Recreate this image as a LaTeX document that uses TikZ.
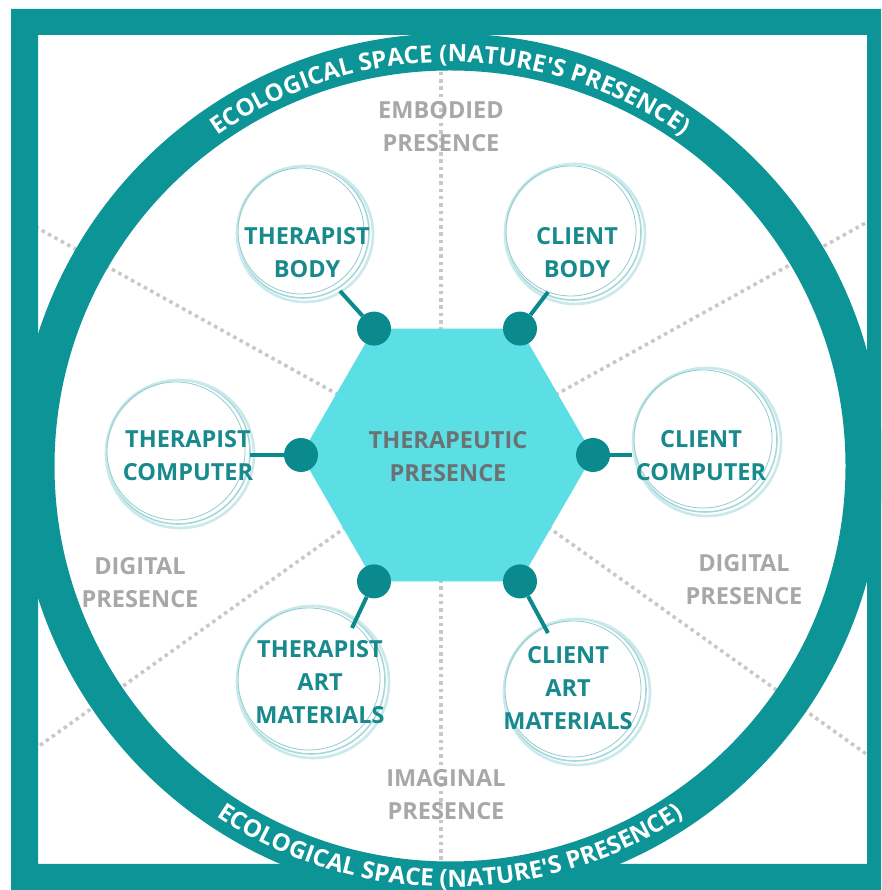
\documentclass[tikz,border=0pt]{standalone}
\usepackage{fontspec}
\setmainfont{Open Sans}
\newfontfamily\ringfont{Open Sans}
\usetikzlibrary{decorations.text,calc}
\definecolor{frameTeal}{HTML}{0C9497}
\definecolor{dotTeal}{HTML}{0B8A8D}
\definecolor{hexCyan}{HTML}{5CDEE5}
\definecolor{nodeTeal}{HTML}{18898C}
\definecolor{labGray}{HTML}{A8A8A8}
\definecolor{hexGray}{HTML}{6C7274}
\definecolor{dotGray}{HTML}{C8C8C8}
\definecolor{skA}{HTML}{A6D8DA}
\definecolor{skB}{HTML}{C9E9EA}
\definecolor{skC}{HTML}{8FCCCE}
\begin{document}
\begin{tikzpicture}[x=1pt,y=1pt,
  dotline/.style={dotGray, line width=3.5, dash pattern=on 3.5 off 3.8},
  graylab/.style={text=labGray, font=\fontsize{23.5}{33}\selectfont\bfseries, align=center, inner sep=0},
  nodetext/.style={text=nodeTeal, font=\fontsize{23.5}{33}\selectfont\bfseries, align=center, inner sep=0},
  hexlab/.style={text=hexGray, font=\fontsize{23.5}{33}\selectfont\bfseries, align=center, inner sep=0},
  skcirc/.style={circle, draw=skA, line width=1.6, inner sep=0},
  skextraB/.style={draw=skB, line width=2.6},
  skextraC/.style={draw=skC, line width=0.8},
  knob/.style={circle, fill=dotTeal, minimum size=34, inner sep=0},
  link/.style={dotTeal, line width=4}
]
\useasboundingbox (0,0) rectangle (881,890);
\clip (0,0) rectangle (881,890);
\fill[white] (0,0) rectangle (881,890);

% radial dotted lines (kept inside the frame)
\coordinate (ctr) at (447,435);
\coordinate (vTop) at (441,435);
\coordinate (ulEnd) at ($(ctr)+(151:520)$);
\coordinate (urEnd) at ($(ctr)+(29:520)$);
\coordinate (llEnd) at ($(ctr)+(215.5:520)$);
\coordinate (lrEnd) at ($(ctr)+(324.5:520)$);
\coordinate (upEnd) at (441,880);
\coordinate (dnEnd) at (441,0);
\begin{scope}
\clip (38,26) rectangle (867,855);
\draw[dotline] (ctr) -- (ulEnd);
\draw[dotline] (ctr) -- (urEnd);
\draw[dotline] (ctr) -- (llEnd);
\draw[dotline] (ctr) -- (lrEnd);
\draw[dotline] (vTop) -- (upEnd);
\draw[dotline] (vTop) -- (dnEnd);
\end{scope}

% ecological ring and frame
\coordinate (ringC) at (450,424);
\draw[frameTeal, line width=37] (ringC) circle[radius=414];
\fill[frameTeal, even odd rule] (11,-20) rectangle (900,881) (38,26) rectangle (867,855);

% ring texts
\path[decorate, decoration={text along path, text align=center, text color=white,
  text={|\fontsize{24}{24}\ringfont\bfseries|ECOLOGICAL SPACE (NATURE'S PRESENCE)}}]
  (ringC) ++(130:404) arc[start angle=130, end angle=50, radius=404];
\path[decorate, decoration={text along path, text align=center, text color=white,
  text={|\fontsize{24}{24}\ringfont\bfseries|ECOLOGICAL SPACE (NATURE'S PRESENCE)}}]
  (ringC) ++(230:421) arc[start angle=230, end angle=310, radius=421];

% gray presence labels
\node[graylab] (embodied) at (441,763) {EMBODIED\\PRESENCE};
\node[graylab] (digL) at (140,307) {DIGITAL\\PRESENCE};
\node[graylab] (digR) at (744,310) {DIGITAL\\PRESENCE};
\node[graylab] (imag) at (446,95) {IMAGINAL\\PRESENCE};

% sketch circles
\node[skcirc, minimum size=132] (tbc) at (303,658) {};
\draw[skextraB] ($(tbc)+(2,-2)$) circle[radius=68];
\draw[skextraC] ($(tbc)+(-2,1)$) circle[radius=63];
\node[skcirc, minimum size=136] (cbc) at (573,658) {};
\draw[skextraB] ($(cbc)+(2,-2)$) circle[radius=70];
\draw[skextraC] ($(cbc)+(-2,1)$) circle[radius=65];
\node[skcirc, minimum size=144] (tcc) at (178,438) {};
\draw[skextraB] ($(tcc)+(2,-2)$) circle[radius=74];
\draw[skextraC] ($(tcc)+(-2,1)$) circle[radius=69];
\node[skcirc, minimum size=144] (ccc) at (705,450) {};
\draw[skextraB] ($(ccc)+(2,-2)$) circle[radius=74];
\draw[skextraC] ($(ccc)+(-2,1)$) circle[radius=69];
\node[skcirc, minimum size=148] (tamc) at (311,210) {};
\draw[skextraB] ($(tamc)+(2,-2)$) circle[radius=76];
\draw[skextraC] ($(tamc)+(-2,1)$) circle[radius=71];
\node[skcirc, minimum size=142] (camc) at (575,200) {};
\draw[skextraB] ($(camc)+(2,-2)$) circle[radius=73];
\draw[skextraC] ($(camc)+(-2,1)$) circle[radius=68];

% hexagon
\coordinate (v0) at (593,435);
\coordinate (v1) at (520,561.4);
\coordinate (v2) at (374,561.4);
\coordinate (v3) at (301,435);
\coordinate (v4) at (374,308.6);
\coordinate (v5) at (520,308.6);
\fill[hexCyan] (v0) -- (v1) -- (v2) -- (v3) -- (v4) -- (v5) -- cycle;

% knobs
\node[knob] (dCC) at (v0) {};
\node[knob] (dCB) at (v1) {};
\node[knob] (dTB) at (v2) {};
\node[knob] (dTC) at (v3) {};
\node[knob] (dTAM) at (v4) {};
\node[knob] (dCAM) at (v5) {};

% connector ends
\coordinate (eTB) at (340,599);
\coordinate (eCB) at (548,598);
\coordinate (eTC) at (250,435);
\coordinate (eCC) at (632,435);
\coordinate (eTAM) at (352,262);
\coordinate (eCAM) at (548,257);
\draw[link] (dTB) -- (eTB);
\draw[link] (dCB) -- (eCB);
\draw[link] (dTC) -- (eTC);
\draw[link] (dCC) -- (eCC);
\draw[link] (dTAM) -- (eTAM);
\draw[link] (dCAM) -- (eCAM);

% texts
\node[hexlab] (hexText) at (448,433) {THERAPEUTIC\\PRESENCE};
\node[nodetext] (tbt) at (307,637) {THERAPIST\\BODY};
\node[nodetext] (cbt) at (577,637) {CLIENT\\BODY};
\node[nodetext] (tct) at (188,434) {THERAPIST\\COMPUTER};
\node[nodetext] (cct) at (701,434) {CLIENT\\COMPUTER};
\node[nodetext] (tamt) at (320,208) {THERAPIST\\ART\\MATERIALS};
\node[nodetext] (camt) at (568,202) {CLIENT\\ART\\MATERIALS};
\end{tikzpicture}
\end{document}
